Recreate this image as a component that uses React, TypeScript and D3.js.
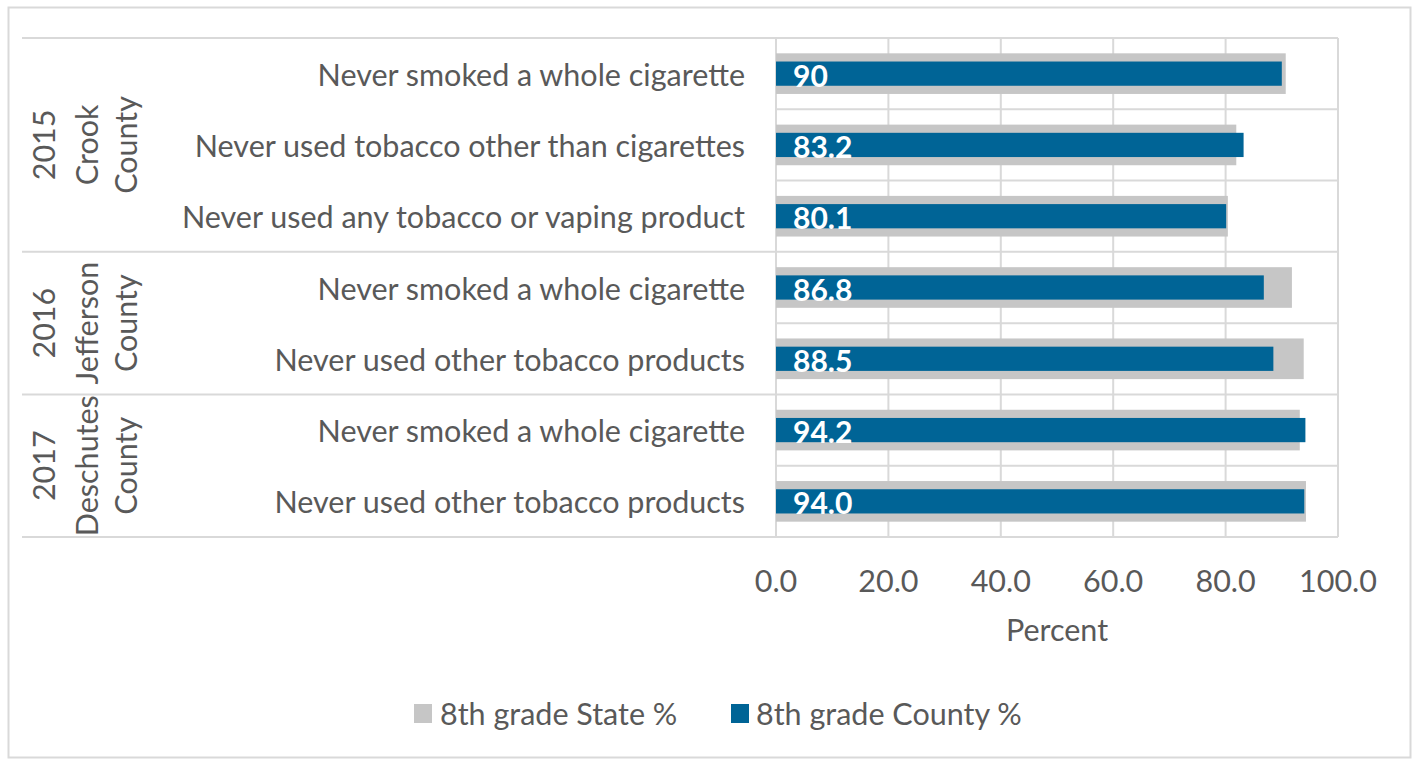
import React from "react";
import * as d3 from "d3";

const categories = [
  "Never smoked a whole cigarette",
  "Never used tobacco other than cigarettes",
  "Never used any tobacco or vaping product",
  "Never smoked a whole cigarette",
  "Never used other tobacco products",
  "Never smoked a whole cigarette",
  "Never used other tobacco products",
];
const groupIndex = [0, 0, 0, 1, 1, 2, 2];
const groups = [
  ["2015", "Crook", "County"],
  ["2016", "Jefferson", "County"],
  ["2017", "Deschutes", "County"],
];
const stateValues = [90.7, 81.9, 80.4, 91.8, 93.9, 93.2, 94.3];
const countyValues = [90, 83.2, 80.1, 86.8, 88.5, 94.2, 94.0];
const countyLabels = ["90", "83.2", "80.1", "86.8", "88.5", "94.2", "94.0"];
const xTicks = [0, 20, 40, 60, 80, 100];
const seriesNames = ["8th grade State %", "8th grade County %"];

const W = 1416;
const H = 759;
const plot = { left: 776, right: 1338, top: 38, bottom: 537 };
const grey = "#c6c6c6";
const blue = "#006496";
const textColor = "#595959";
const gridColor = "#d9d9d9";
const font = "Lato, 'Open Sans', sans-serif";
const fs = 30.5;

export default function App() {
  const x = d3.scaleLinear().domain([0, 100]).range([plot.left, plot.right]);
  const y = d3
    .scaleBand<number>()
    .domain(d3.range(categories.length))
    .range([plot.top, plot.bottom])
    .padding(0);
  const bw = y.bandwidth();
  const stateH = bw * 0.57;
  const countyH = bw * 0.34;

  const groupBounds = groups.map((_, gi) => {
    const idx = groupIndex.map((g, i) => (g === gi ? i : -1)).filter((i) => i >= 0);
    const y0 = y(idx[0])!;
    const y1 = y(idx[idx.length - 1])! + bw;
    return [y0, y1];
  });
  const groupX = [43, 86, 125];

  return (
    <svg
      width={W}
      height={H}
      style={{ position: "absolute", left: 0, top: 0, background: "#fff" }}
      fontFamily={font}
    >
      <rect x={8.5} y={7.5} width={1402} height={750} fill="#fff" stroke="#d9d9d9" strokeWidth={2} />
      {d3.range(categories.length + 1).map((i) => {
        const yy = i === categories.length ? plot.bottom : y(i)!;
        return (
          <line key={"h" + i} x1={plot.left} x2={plot.right} y1={yy} y2={yy} stroke={gridColor} strokeWidth={2} />
        );
      })}
      {xTicks.map((t) => (
        <line key={"v" + t} x1={x(t)} x2={x(t)} y1={plot.top} y2={plot.bottom} stroke={gridColor} strokeWidth={2} />
      ))}
      {[plot.top, ...groupBounds.map((b) => b[1])].map((yy, i) => (
        <line key={"g" + i} x1={22} x2={plot.left} y1={yy} y2={yy} stroke={gridColor} strokeWidth={2} />
      ))}
      {stateValues.map((v, i) => (
        <rect
          key={"s" + i}
          x={x(0)}
          y={y(i)! + (bw - stateH) / 2}
          width={x(v) - x(0)}
          height={stateH}
          fill={grey}
        />
      ))}
      {countyValues.map((v, i) => (
        <rect
          key={"c" + i}
          x={x(0)}
          y={y(i)! + (bw - countyH) / 2}
          width={x(v) - x(0)}
          height={countyH}
          fill={blue}
        />
      ))}
      {countyValues.map((v, i) => (
        <text
          key={"l" + i}
          x={x(0) + 17}
          y={y(i)! + bw / 2 + 1}
          dominantBaseline="central"
          fill="#fff"
          fontWeight="bold"
          fontSize={30}
        >
          {countyLabels[i]}
        </text>
      ))}
      {categories.map((c, i) => (
        <text
          key={"cat" + i}
          x={745}
          y={y(i)! + bw / 2}
          textAnchor="end"
          dominantBaseline="central"
          fill={textColor}
          fontSize={fs}
        >
          {c}
        </text>
      ))}
      {groups.map((lines, gi) => {
        const cy = (groupBounds[gi][0] + groupBounds[gi][1]) / 2;
        return lines.map((ln, li) => (
          <text
            key={"gl" + gi + li}
            transform={`translate(${groupX[li]},${cy}) rotate(-90)`}
            textAnchor="middle"
            dominantBaseline="central"
            fill={textColor}
            fontSize={fs}
          >
            {ln}
          </text>
        ));
      })}
      {xTicks.map((t) => (
        <text key={"t" + t} x={x(t)} y={580} textAnchor="middle" dominantBaseline="central" fill={textColor} fontSize={fs}>
          {d3.format(".1f")(t)}
        </text>
      ))}
      <text x={(plot.left + plot.right) / 2} y={629} textAnchor="middle" dominantBaseline="central" fill={textColor} fontSize={fs}>
        Percent
      </text>
      <rect x={414} y={704} width={18} height={19} fill={grey} />
      <text x={440} y={713} dominantBaseline="central" fill={textColor} fontSize={fs}>
        {seriesNames[0]}
      </text>
      <rect x={731} y={704} width={18} height={19} fill={blue} />
      <text x={756} y={713} dominantBaseline="central" fill={textColor} fontSize={fs}>
        {seriesNames[1]}
      </text>
    </svg>
  );
}
